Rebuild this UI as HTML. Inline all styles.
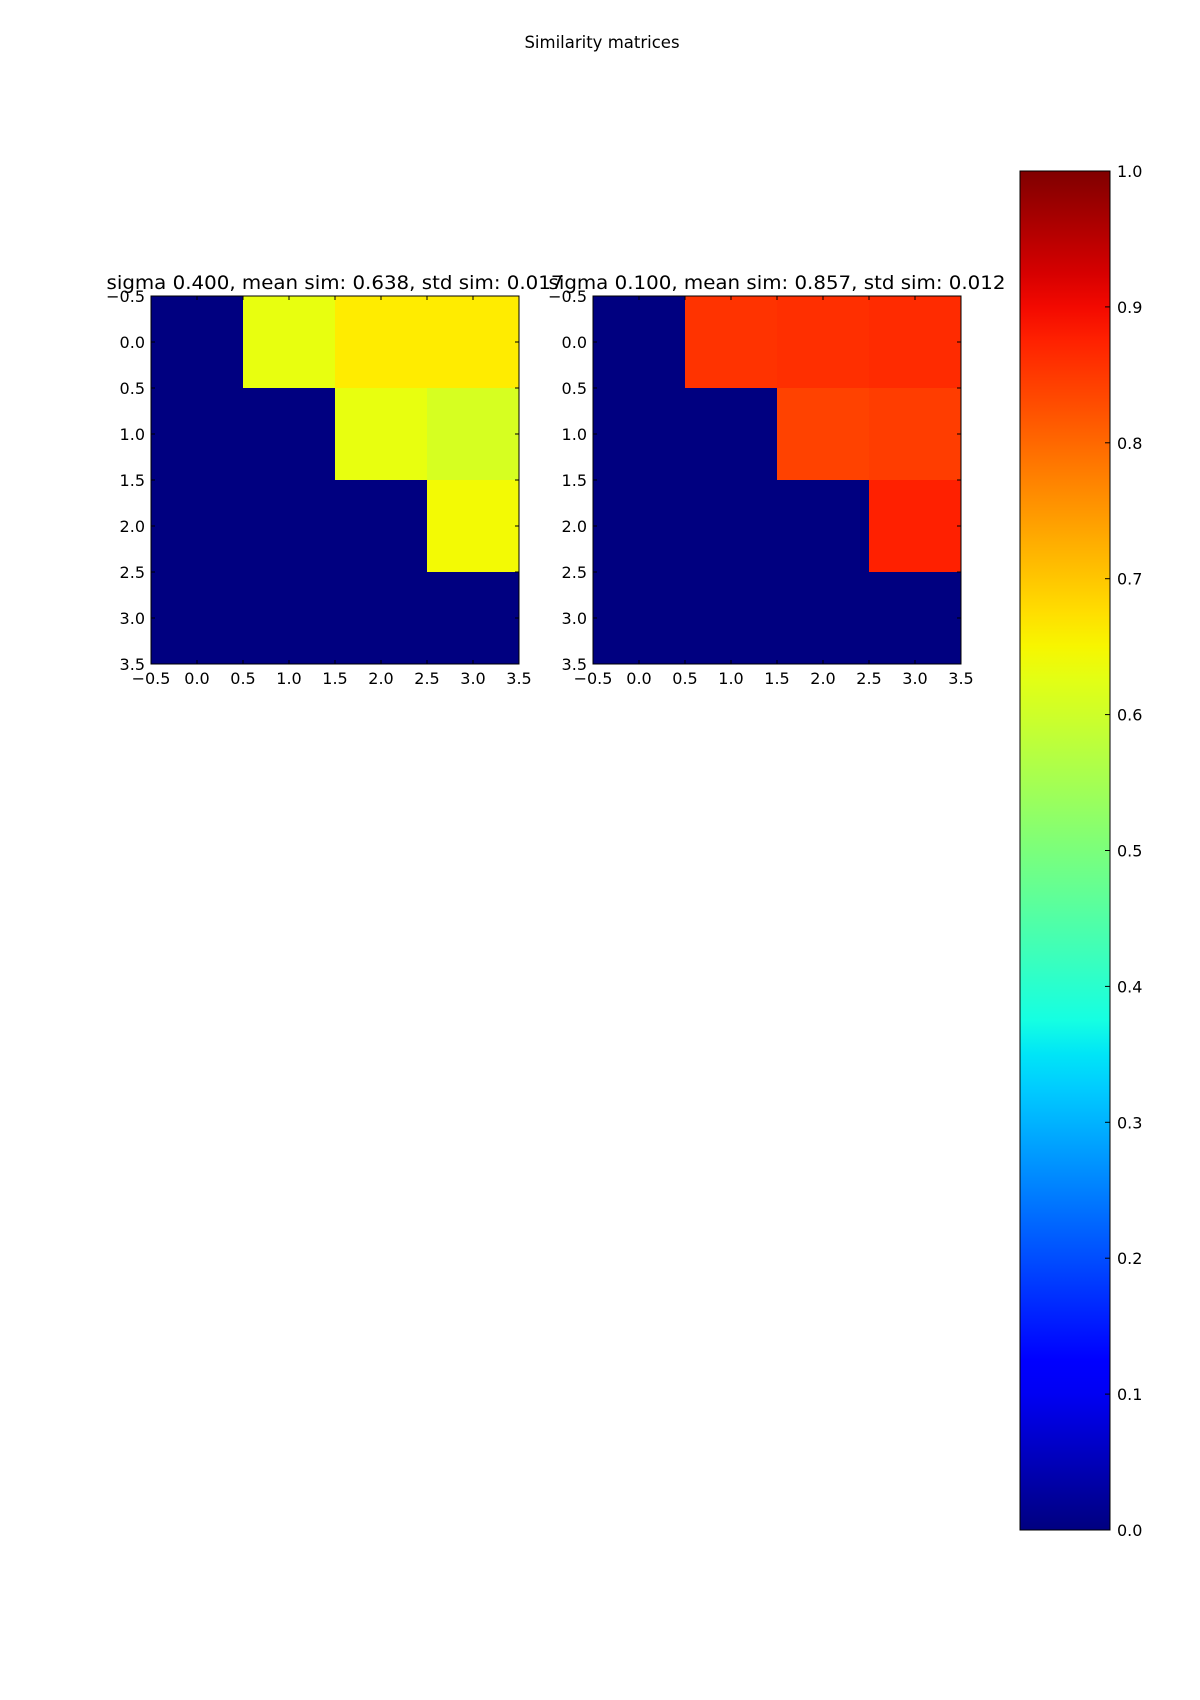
<!DOCTYPE html>
<html><head><meta charset="utf-8"><style>
html,body{margin:0;padding:0;background:#fff;}
svg{display:block;font-family:"DejaVu Sans","Liberation Sans",sans-serif;}
</style></head><body>
<svg id="fig" width="1200" height="1700" viewBox="0 0 1200 1700" xmlns="http://www.w3.org/2000/svg">
<text x="602" y="48" font-size="16.5" text-anchor="middle">Similarity matrices</text>
<defs><linearGradient id="jetgrad" x1="0" y1="1" x2="0" y2="0"></linearGradient></defs>
<g id="panels"></g>
<g id="cbar"></g>
</svg>
<script>
const titles = ["sigma 0.400, mean sim: 0.638, std sim: 0.017", "sigma 0.100, mean sim: 0.857, std sim: 0.012"];
const matrixLeft = [
  [0, 0.632, 0.660, 0.660],
  [0, 0, 0.632, 0.610],
  [0, 0, 0, 0.645],
  [0, 0, 0, 0]
];
const matrixRight = [
  [0, 0.856, 0.860, 0.865],
  [0, 0, 0.840, 0.845],
  [0, 0, 0, 0.876],
  [0, 0, 0, 0]
];
const axisTicks = [-0.5, 0.0, 0.5, 1.0, 1.5, 2.0, 2.5, 3.0, 3.5];
const cbarTicks = [0.0, 0.1, 0.2, 0.3, 0.4, 0.5, 0.6, 0.7, 0.8, 0.9, 1.0];

const NS = "http://www.w3.org/2000/svg";
function mk(tag, attrs, parent){const e=document.createElementNS(NS,tag);for(const k in attrs)e.setAttribute(k,attrs[k]);if(parent)parent.appendChild(e);return e;}
function interp(pts,v){for(let i=1;i<pts.length;i++){if(v<=pts[i][0]){const a=pts[i-1],b=pts[i];return a[1]+(b[1]-a[1])*(v-a[0])/(b[0]-a[0]);}}return pts[pts.length-1][1];}
function jet(v){
  const r=interp([[0,0],[0.35,0],[0.66,1],[0.89,1],[1,0.5]],v);
  const g=interp([[0,0],[0.125,0],[0.375,1],[0.64,1],[0.91,0],[1,0]],v);
  const b=interp([[0,0.5],[0.11,1],[0.34,1],[0.65,0],[1,0]],v);
  return `rgb(${Math.round(r*255)},${Math.round(g*255)},${Math.round(b*255)})`;
}
function fmt(t){return (t<0?"\u2212":"")+Math.abs(t).toFixed(1);}

const panels = document.getElementById("panels");
const S = 368, TOP = 296;
const lefts = [151, 593];
const mats = [matrixLeft, matrixRight];
mats.forEach((m, p) => {
  const L = lefts[p];
  const g = mk("g", {}, panels);
  
  
  const n = m.length;
  const sx = v => L + (v + 0.5) / n * S;
  const sy = v => TOP + (v + 0.5) / n * S;
  m.forEach((row, i) => row.forEach((val, j) => {
    const c = mk("rect", {x: sx(j-0.5), y: sy(i-0.5), width: S/n + 0.5, height: S/n + 0.5, fill: jet(val)}, g);
    
    
  }));
  mk("rect", {x: L, y: TOP, width: S, height: S, fill: "none", stroke: "#000", "stroke-width": 1}, g);
  axisTicks.forEach(t => {
    const x = sx(t), y = sy(t);
    mk("line", {x1: x, y1: TOP+S, x2: x, y2: TOP+S-4, stroke: "#000"}, g);
    mk("line", {x1: x, y1: TOP, x2: x, y2: TOP+4, stroke: "#000"}, g);
    mk("line", {x1: L, y1: y, x2: L+4, y2: y, stroke: "#000"}, g);
    mk("line", {x1: L+S, y1: y, x2: L+S-4, y2: y, stroke: "#000"}, g);
    const xl = mk("text", {x: x, y: TOP+S+20, "font-size": 16, "text-anchor": "middle"}, g);
    xl.textContent = fmt(t);
    
    
    const yl = mk("text", {x: L-6, y: y+6, "font-size": 16, "text-anchor": "end"}, g);
    yl.textContent = fmt(t);
    
    
  });
  const tt = mk("text", {x: L + S/2, y: 289, "font-size": 19, "text-anchor": "middle", textLength: 457, lengthAdjust: "spacingAndGlyphs"}, g);
  tt.textContent = titles[p];
  
  
});

// colorbar
const grad = document.getElementById("jetgrad");
for (let k = 0; k <= 40; k++) { const v = k/40; mk("stop", {offset: v, "stop-color": jet(v)}, grad); }
const cb = document.getElementById("cbar");
const CL = 1020, CT = 171, CW = 90, CH = 1359;
const cy = v => CT + CH - v * CH;
mk("rect", {x: CL, y: CT, width: CW, height: CH, fill: "url(#jetgrad)", stroke: "#000", "stroke-width": 1}, cb);
cbarTicks.forEach(t => {
  mk("line", {x1: CL+CW, y1: cy(t), x2: CL+CW-5, y2: cy(t), stroke: "#000"}, cb);
  const l = mk("text", {x: CL+CW+7, y: cy(t)+6, "font-size": 16}, cb);
  l.textContent = t.toFixed(1);
  
  
});
</script>
</body></html>
